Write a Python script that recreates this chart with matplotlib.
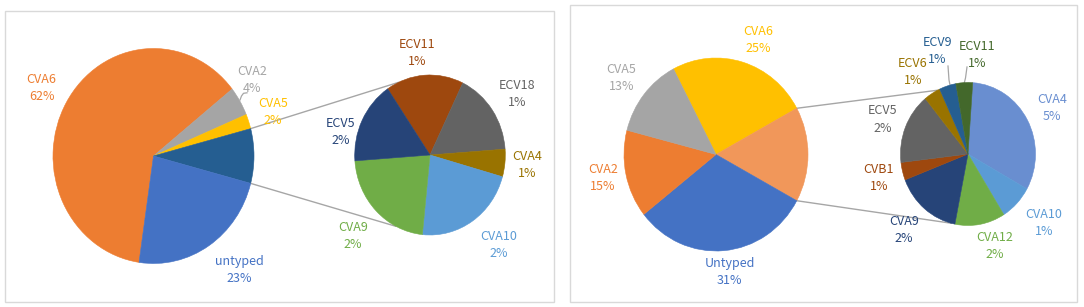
import matplotlib
matplotlib.use("Agg")
import matplotlib.pyplot as plt
import numpy as np

plt.rcParams['font.family'] = ['Noto Sans CJK SC', 'DejaVu Sans']

# ---------------- data ----------------
# Left chart: primary pie (clockwise order), "Other" slice is split into the secondary pie
left_main_labels = ["CVA6", "CVA2", "CVA5", "Other", "untyped"]
left_main_values = [62.0, 4.4, 2.2, 8.2, 23.2]
left_main_pct = ["62%", "4%", "2%", "", "23%"]

left_sub_labels = ["ECV11", "ECV18", "CVA4", "CVA10", "CVA9", "ECV5"]
left_sub_values = [3, 3, 1, 4, 4, 3]
left_sub_pct = ["1%", "1%", "1%", "2%", "2%", "2%"]

# Right chart
right_main_labels = ["CVA6", "Other", "Untyped", "CVA2", "CVA5"]
right_main_values = [24.7, 15.9, 31.4, 14.7, 13.3]
right_main_pct = ["25%", "", "31%", "15%", "13%"]

right_sub_labels = ["CVA4", "CVA10", "CVA12", "CVA9", "CVB1", "ECV5", "ECV6", "ECV9", "ECV11"]
right_sub_values = [8, 2, 3, 4, 1, 4, 1, 1, 1]
right_sub_pct = ["5%", "1%", "2%", "2%", "1%", "2%", "1%", "1%", "1%"]

# ---------------- styles ----------------
left_main_colors = ["#ED7D31", "#A5A5A5", "#FFC000", "#255E91", "#4472C4"]
left_sub_colors = ["#9E480E", "#636363", "#997300", "#5B9BD5", "#70AD47", "#264478"]
right_main_colors = ["#FFC000", "#F1975A", "#4472C4", "#ED7D31", "#A5A5A5"]
right_sub_colors = ["#698ED0", "#5B9BD5", "#70AD47", "#264478", "#9E480E",
                    "#636363", "#997300", "#255E91", "#43682B"]

W, H = 1084, 307
fig = plt.figure(figsize=(W / 100, H / 100), dpi=100)
fig.patch.set_facecolor("white")

ov = fig.add_axes([0, 0, 1, 1])
ov.set_xlim(0, W)
ov.set_ylim(H, 0)
ov.axis("off")

# panel frames
for (x0, y0, x1, y1) in [(5, 11, 554, 302), (570, 4.5, 1077, 302)]:
    ov.add_patch(plt.Rectangle((x0, y0), x1 - x0, y1 - y0, fill=False,
                               edgecolor="#d9d9d9", linewidth=1.0))

# geometry (pixel): cx, cy, rx, ry
LM = (153.5, 156, 100.5, 107.5)
LS = (430, 155, 75.3, 80)
RM = (716, 154.5, 92, 96.5)
RS = (968, 154, 67.5, 71.5)


def pie_axes(geom, values, colors, start):
    cx, cy, rx, ry = geom
    ax = fig.add_axes([(cx - rx) / W, 1 - (cy + ry) / H, 2 * rx / W, 2 * ry / H])
    wedges, _ = ax.pie(values, colors=colors, startangle=start, counterclock=False,
                       radius=1, wedgeprops=dict(linewidth=0.4))
    for w in wedges:
        w.set_edgecolor(w.get_facecolor())
    ax.set_aspect("auto")
    ax.set_xlim(-1, 1)
    ax.set_ylim(-1, 1)
    ax.axis("off")
    return ax


def ell_pt(geom, ang):
    cx, cy, rx, ry = geom
    a = np.radians(ang)
    return cx + rx * np.cos(a), cy - ry * np.sin(a)


def main_start(values, labels):
    i = labels.index("Other")
    tot = sum(values)
    return (sum(values[:i]) + values[i] / 2) / tot * 360, values[i] / tot * 180


def put_label(x, y, name, pct, color):
    ov.text(x, y - 8.5, name, color=color, fontsize=9, ha="center", va="center")
    ov.text(x, y + 8.5, pct, color=color, fontsize=9, ha="center", va="center")


line_col = "#a6a6a6"

# ---------- left chart ----------
ls_start, l_half = main_start(left_main_values, left_main_labels)
pie_axes(LM, left_main_values, left_main_colors, ls_start)
pie_axes(LS, left_sub_values, left_sub_colors, 124.2)

for a_main, a_sub in [(l_half, 114.8), (-l_half, -117)]:
    p1 = ell_pt(LM, a_main)
    p2 = ell_pt(LS, a_sub)
    ov.plot([p1[0], p2[0]], [p1[1], p2[1]], color=line_col, lw=1.0)

left_main_pos = [(41.5, 88), (252, 80), (273, 112), None, (239, 270)]
for lab, pct, c, pos in zip(left_main_labels, left_main_pct, left_main_colors, left_main_pos):
    if pos is not None:
        put_label(pos[0], pos[1], lab, pct, c)
# CVA2 leader line
ov.plot([240, 241.5, 243.5, 247], [100, 96, 93.3, 92.8], color=line_col, lw=0.9)

left_sub_pos = [(417, 53), (517, 94), (527, 165), (499, 245), (353, 236), (341, 132)]
for lab, pct, c, pos in zip(left_sub_labels, left_sub_pct, left_sub_colors, left_sub_pos):
    put_label(pos[0], pos[1], lab, pct, c)

# ---------- right chart ----------
rs_start, r_half = main_start(right_main_values, right_main_labels)
pie_axes(RM, right_main_values, right_main_colors, rs_start)
pie_axes(RS, right_sub_values, right_sub_colors, 86)

for a_main, a_sub in [(r_half, 116.9), (-r_half, -104.6)]:
    p1 = ell_pt(RM, a_main)
    p2 = ell_pt(RS, a_sub)
    ov.plot([p1[0], p2[0]], [p1[1], p2[1]], color=line_col, lw=1.0)

right_main_pos = [(758.5, 40), None, (729.5, 272), (603, 178), (621.5, 78)]
for lab, pct, c, pos in zip(right_main_labels, right_main_pct, right_main_colors, right_main_pos):
    if pos is not None:
        put_label(pos[0], pos[1], lab, pct, c)

right_sub_pos = [(1052, 108), (1044, 223), (995, 246), (904, 230), (879, 178),
                 (883, 119.5), (913, 72), (937, 51), (977, 55)]
for lab, pct, c, pos in zip(right_sub_labels, right_sub_pct, right_sub_colors, right_sub_pos):
    put_label(pos[0], pos[1], lab, pct, c)

# leader lines for ECV9 / ECV11
ov.plot([948, 949, 950], [66, 80, 85], color=line_col, lw=0.9)
ov.plot([967, 965.5, 964], [67, 78, 84], color=line_col, lw=0.9)

fig.savefig("out.png", dpi=100, facecolor="white")
